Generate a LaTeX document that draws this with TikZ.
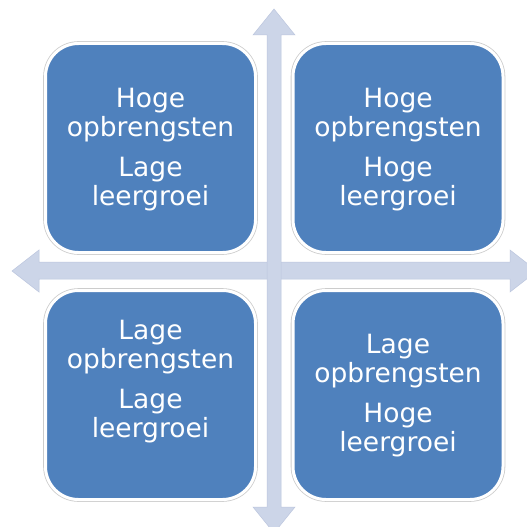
\documentclass[tikz,border=0pt]{standalone}
\usepackage{fontspec}
\setmainfont{DejaVu Sans}
\usetikzlibrary{positioning}
\definecolor{vakblauw}{RGB}{79,129,189}
\definecolor{asblauw}{RGB}{204,213,232}
\definecolor{asrand}{RGB}{188,198,222}
\tikzstyle{kwadrant} = [rectangle, rounded corners=33pt, minimum width=210pt, minimum height=209pt, fill=vakblauw, draw=white, line width=3pt, preaction={draw=gray!40, line width=4.6pt}]
\tikzstyle{tekst} = [text=white, align=center, font=\fontsize{26.5}{29}\selectfont]
\tikzstyle{as} = [fill=asblauw, draw=asrand, line width=0.5pt]

\begin{document}
\begin{tikzpicture}[x=1pt, y=-1pt]
				\useasboundingbox[fill=white] (0,0) rectangle (527,527);
				% assen
				\draw[as] (12,271) -- (39,250) -- (39,262) -- (510,262) -- (510,250) -- (537,271) -- (510,292) -- (510,279) -- (39,279) -- (39,292) -- cycle;
				\draw[as] (274,9) -- (295,35) -- (281,35) -- (281,507) -- (295,507) -- (274,533) -- (253,507) -- (267,507) -- (267,35) -- (253,35) -- cycle;
				% kwadranten
				\node (lb) at (150.5,148) [kwadrant] {};
				\node (rb) at (398,148) [kwadrant] {};
				\node (lo) at (150.5,395) [kwadrant] {};
				\node (ro) at (398,395) [kwadrant] {};
				\node (lbt) at ([yshift=-2pt]lb.center) [tekst] {Hoge\\opbrengsten\\[11pt]Lage\\leergroei};
				\node (rbt) at ([yshift=-2pt]rb.center) [tekst] {Hoge\\opbrengsten\\[11pt]Hoge\\leergroei};
				\node (lot) at ([yshift=13pt]lo.center) [tekst] {Lage\\opbrengsten\\[11pt]Lage\\leergroei};
				\node (rot) at ([yshift=-1pt]ro.center) [tekst] {Lage\\opbrengsten\\[11pt]Hoge\\leergroei};
\end{tikzpicture}
\end{document}
